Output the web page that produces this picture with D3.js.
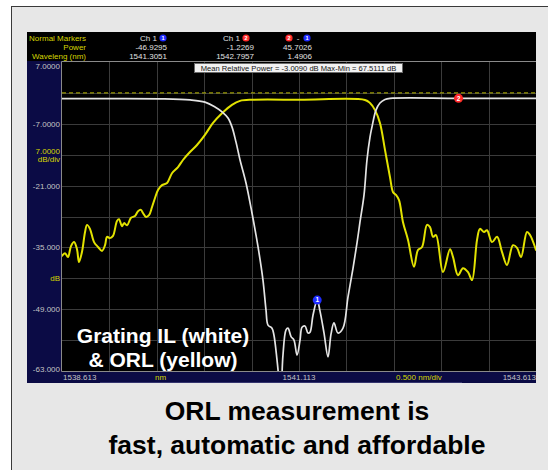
<!DOCTYPE html>
<html>
<head>
<meta charset="utf-8">
<script src="https://cdn.jsdelivr.net/npm/d3@7/dist/d3.min.js"></script>
<style>
  body { margin: 0; background: #ffffff; }
  svg { display: block; }
  text { font-family: "Liberation Sans", Arial, Helvetica, sans-serif; }
</style>
</head>
<body>
<svg id="chart" width="548" height="470"></svg>
<script>
// ---- Axis ticks -------------------------------------------------------
const yTickValues = [7, -7, -21, -35, -49, -63];
const yTickLabels = ["7.0000", "-7.0000", "-21.000", "-35.000", "-49.000", "-63.000"];
const xTickValues = [1538.613, 1541.113, 1543.613];
const xTickLabels = ["1538.613", "1541.113", "1543.613"];
const referenceLevel = 0;

// ---- Grating insertion loss (white trace) -----------------------------
const ilWavelength = [
  1538.613, 1539.119, 1539.647, 1539.963, 1540.121, 1540.227, 1540.301, 1540.364,
  1540.406, 1540.448, 1540.491, 1540.554, 1540.617, 1540.681, 1540.733, 1540.765,
  1540.786, 1540.828, 1540.849, 1540.881, 1540.902, 1540.915, 1540.930, 1540.944,
  1540.976, 1540.997, 1541.029, 1541.060, 1541.092, 1541.124, 1541.145, 1541.176,
  1541.208, 1541.229, 1541.261, 1541.3051, 1541.335, 1541.377, 1541.419, 1541.451,
  1541.482, 1541.524, 1541.577, 1541.630, 1541.683, 1541.725, 1541.756, 1541.799,
  1541.830, 1541.862, 1541.883, 1541.925, 1541.967, 1542.020, 1542.073, 1542.7957,
  1543.613
];
const ilPower = [
  -1.30, -1.30, -1.35, -1.6, -2.1, -3.2, -4.3, -5.7,
  -7.7, -11.1, -15.2, -20.4, -27.2, -34.9, -42.4, -49.2,
  -52.6, -53.3, -54.9, -60.5, -65.0, -68.0, -65.0, -59.4,
  -53.7, -53.3, -55.2, -56.0, -59.4, -56.0, -53.1, -52.8,
  -54.4, -54.2, -50.3, -46.9295, -49.5, -54.4, -59.8, -54.6,
  -52.1, -54.4, -53.3, -46.2, -39.7, -34.0, -29.3, -23.1,
  -15.2, -10.0, -7.7, -3.9, -2.3, -1.5, -1.25, -1.2269,
  -1.22
];

// ---- Optical return loss (yellow trace) -------------------------------
const orlWavelength = [
  1538.613, 1538.645, 1538.676, 1538.708, 1538.740, 1538.771, 1538.792, 1538.824,
  1538.856, 1538.877, 1538.908, 1538.951, 1538.993, 1539.035, 1539.067, 1539.088,
  1539.119, 1539.151, 1539.193, 1539.214, 1539.246, 1539.267, 1539.299, 1539.341,
  1539.383, 1539.415, 1539.446, 1539.467, 1539.499, 1539.531, 1539.562, 1539.594,
  1539.626, 1539.668, 1539.721, 1539.773, 1539.837, 1539.889, 1539.963, 1540.037,
  1540.121, 1540.206, 1540.301, 1540.406, 1540.491, 1540.628, 1541.124, 1541.809,
  1541.862, 1541.915, 1541.967, 1542.020, 1542.073, 1542.105, 1542.136, 1542.168,
  1542.210, 1542.263, 1542.326, 1542.368, 1542.411, 1542.463, 1542.495, 1542.527,
  1542.558, 1542.632, 1542.706, 1542.738, 1542.790, 1542.843, 1542.896, 1542.938,
  1542.991, 1543.022, 1543.065, 1543.096, 1543.149, 1543.202, 1543.254, 1543.307,
  1543.370, 1543.413, 1543.455, 1543.518, 1543.550, 1543.613
];
const orlPower = [
  -36.9, -36.3, -37.2, -34.7, -33.8, -35.4, -38.3, -36.0,
  -31.5, -29.9, -30.8, -33.8, -34.9, -35.8, -34.5, -32.6,
  -32.9, -32.4, -29.0, -28.6, -30.2, -29.5, -30.0, -28.3,
  -27.9, -26.8, -26.5, -27.2, -28.1, -27.7, -25.9, -23.8,
  -22.0, -20.9, -20.4, -18.2, -16.8, -15.2, -13.4, -11.8,
  -9.5, -6.8, -4.6, -2.7, -1.8, -1.55, -1.55, -1.6,
  -2.3, -3.9, -6.8, -12.9, -19.1, -22.5, -23.1, -24.3,
  -29.3, -33.3, -39.4, -35.6, -34.9, -29.9, -30.4, -32.6,
  -32.2, -40.6, -35.4, -37.2, -41.3, -39.7, -40.6, -42.4,
  -33.3, -30.8, -31.5, -31.1, -33.8, -32.6, -36.0, -39.0,
  -34.5, -35.1, -37.2, -31.5, -32.2, -35.6
];

// ---- Markers -----------------------------------------------------------
const markerNames = ["1", "2"];
const markerWavelength = [1541.3051, 1542.7957];
const markerPower = [-46.9295, -1.2269];
const markerColors = ["#1f2bff", "#ff2a2a"];

// ---- Header readout -----------------------------------------------------
const headerRowLabels = ["Normal Markers", "Power", "Waveleng (nm)"];
const readoutPower = ["-46.9295", "-1.2269", "45.7026"];
const readoutWavelength = ["1541.3051", "1542.7957", "1.4906"];
const statsText = "Mean Relative Power = -3.0090 dB  Max-Min = 67.5111 dB";

// ---- Captions -----------------------------------------------------------
const overlayLines = ["Grating IL (white)", "& ORL (yellow)"];
const titleLines = ["ORL measurement is", "fast, automatic and affordable"];

// =======================================================================
const svg = d3.select("#chart");
const plot = { left: 62, right: 536, top: 62, bottom: 371 };
const panel = { left: 27, right: 536, top: 32, bottom: 383 };
const navy = "#0b0b45";
const yellow = "#e2e200";
const grey = "#c4c4c4";

const x = d3.scaleLinear().domain([xTickValues[0], xTickValues[2]]).range([plot.left, plot.right]);
const y = d3.scaleLinear().domain([-63, 7]).range([plot.bottom, plot.top]);

// slide background
svg.append("rect").attr("x", 11.5).attr("y", 6.5).attr("width", 600).attr("height", 500)
  .attr("fill", "#e7e7e7").attr("stroke", "#3a3a3a").attr("stroke-width", 1);

// instrument panel
svg.append("rect").attr("x", panel.left).attr("y", panel.top)
  .attr("width", panel.right - panel.left).attr("height", plot.top - panel.top).attr("fill", "#000");
svg.append("rect").attr("x", panel.left).attr("y", plot.top - 1)
  .attr("width", plot.left - panel.left).attr("height", panel.bottom - plot.top + 1).attr("fill", navy);
svg.append("rect").attr("x", panel.left).attr("y", plot.bottom)
  .attr("width", panel.right - panel.left).attr("height", panel.bottom - plot.bottom).attr("fill", navy);
svg.append("line").attr("x1", 100).attr("x2", 462).attr("y1", 382.5).attr("y2", 382.5)
  .attr("stroke", "#34346e").attr("stroke-width", 1);
svg.append("rect").attr("x", plot.left).attr("y", plot.top)
  .attr("width", plot.right - plot.left).attr("height", plot.bottom - plot.top).attr("fill", "#000");

// grid: 10 x 10 divisions
const gridX = d3.range(1, 10).map(i => xTickValues[0] + i * 0.5);
const gridY = d3.range(1, 10).map(i => 7 - i * 7);
const grid = svg.append("g").attr("stroke", "#3b3b3b").attr("stroke-width", 1);
grid.selectAll(".gx").data(gridX).join("line")
  .attr("x1", d => Math.round(x(d)) + 0.5).attr("x2", d => Math.round(x(d)) + 0.5)
  .attr("y1", plot.top).attr("y2", plot.bottom);
grid.selectAll(".gy").data(gridY).join("line")
  .attr("y1", d => Math.round(y(d)) + 0.5).attr("y2", d => Math.round(y(d)) + 0.5)
  .attr("x1", plot.left).attr("x2", plot.right);

// plot frame
svg.append("path")
  .attr("d", `M${plot.left - 0.5},${plot.bottom + 0.5}V${plot.top - 0.5}H${plot.right}`)
  .attr("fill", "none").attr("stroke", "#8a8a8a").attr("stroke-width", 1);
svg.append("line").attr("x1", plot.left - 0.5).attr("x2", plot.right)
  .attr("y1", plot.bottom + 0.5).attr("y2", plot.bottom + 0.5)
  .attr("stroke", "#8a8a8a").attr("stroke-width", 1);

// reference level
svg.append("line").attr("x1", plot.left).attr("x2", plot.right)
  .attr("y1", y(referenceLevel)).attr("y2", y(referenceLevel))
  .attr("stroke", "#b8b800").attr("stroke-width", 1).attr("stroke-dasharray", "4,3");

// traces
svg.append("clipPath").attr("id", "plotClip").append("rect")
  .attr("x", plot.left).attr("y", plot.top).attr("width", plot.right - plot.left).attr("height", plot.bottom - plot.top);
const line = d3.line().x(d => x(d[0])).y(d => y(d[1])).curve(d3.curveCatmullRom.alpha(0.5));
const traces = svg.append("g").attr("clip-path", "url(#plotClip)").attr("fill", "none")
  .attr("stroke-linejoin", "round").attr("stroke-linecap", "round");
traces.append("path").datum(d3.zip(orlWavelength, orlPower))
  .attr("d", line).attr("stroke", yellow).attr("stroke-width", 2);
traces.append("path").datum(d3.zip(ilWavelength, ilPower))
  .attr("d", line).attr("stroke", "#e4e4e4").attr("stroke-width", 1.7);

// markers on the white trace
const mk = svg.append("g").selectAll("g").data(markerNames).join("g")
  .attr("transform", (d, i) => `translate(${x(markerWavelength[i])},${y(markerPower[i])})`);
mk.append("circle").attr("r", 4.5).attr("fill", (d, i) => markerColors[i]);
mk.append("text").attr("text-anchor", "middle").attr("dy", 2.3).attr("font-size", 6.5)
  .attr("font-weight", "bold").attr("fill", "#fff").text(d => d);

// statistics box
svg.append("rect").attr("x", 194.5).attr("y", 63.5).attr("width", 208).attr("height", 9)
  .attr("fill", "#f2f2f2").attr("stroke", "#6a6a6a").attr("stroke-width", 1);
svg.append("text").attr("x", 298.5).attr("y", 71).attr("text-anchor", "middle")
  .attr("font-size", 7.6).attr("fill", "#111").text(statsText);

// header readout
const headerY = [41, 50, 59];
svg.append("g").selectAll("text").data(headerRowLabels).join("text")
  .attr("x", 86).attr("y", (d, i) => headerY[i]).attr("text-anchor", "end")
  .attr("font-size", 8).attr("fill", "#d6d600").text(d => d);

function badge(cx, cy, idx) {
  const g = svg.append("g").attr("transform", `translate(${cx},${cy})`);
  g.append("circle").attr("r", 3.6).attr("fill", markerColors[idx]);
  g.append("text").attr("text-anchor", "middle").attr("dy", 2).attr("font-size", 5.5)
    .attr("font-weight", "bold").attr("fill", "#fff").text(markerNames[idx]);
}
svg.append("text").attr("x", 157).attr("y", headerY[0]).attr("text-anchor", "end")
  .attr("font-size", 8).attr("fill", "#e0e0e0").text("Ch 1");
badge(163, 38, 0);
svg.append("text").attr("x", 240).attr("y", headerY[0]).attr("text-anchor", "end")
  .attr("font-size", 8).attr("fill", "#e0e0e0").text("Ch 1");
badge(246, 38, 1);
badge(289, 38, 1);
svg.append("text").attr("x", 298).attr("y", headerY[0]).attr("text-anchor", "middle")
  .attr("font-size", 8).attr("fill", "#e0e0e0").text("-");
badge(307, 38, 0);
const colRight = [167, 254, 312];
svg.append("g").selectAll("text").data(readoutPower).join("text")
  .attr("x", (d, i) => colRight[i]).attr("y", headerY[1]).attr("text-anchor", "end")
  .attr("font-size", 8).attr("fill", "#e0e0e0").text(d => d);
svg.append("g").selectAll("text").data(readoutWavelength).join("text")
  .attr("x", (d, i) => colRight[i]).attr("y", headerY[2]).attr("text-anchor", "end")
  .attr("font-size", 8).attr("fill", "#e0e0e0").text(d => d);

// y axis labels
const yNudge = v => (v === 7 ? 7 : v === -63 ? 1 : 3);
svg.append("g").selectAll("text").data(yTickValues).join("text")
  .attr("x", 60).attr("y", d => y(d) + yNudge(d)).attr("text-anchor", "end")
  .attr("font-size", 8).attr("fill", grey).text((d, i) => yTickLabels[i]);
svg.append("text").attr("x", 60).attr("y", y(-14) - 1).attr("text-anchor", "end")
  .attr("font-size", 8).attr("fill", "#d6d600").text("7.0000");
svg.append("text").attr("x", 60).attr("y", y(-14) + 7).attr("text-anchor", "end")
  .attr("font-size", 8).attr("fill", "#d6d600").text("dB/div");
svg.append("text").attr("x", 60).attr("y", y(-42) + 3).attr("text-anchor", "end")
  .attr("font-size", 8).attr("fill", "#d6d600").text("dB");

// x axis labels
const xAnchor = ["start", "middle", "end"];
const xShift = [1, 0, 0];
svg.append("g").selectAll("text").data(xTickValues).join("text")
  .attr("x", (d, i) => x(d) + xShift[i]).attr("y", 380).attr("text-anchor", (d, i) => xAnchor[i])
  .attr("font-size", 8).attr("fill", grey).text((d, i) => xTickLabels[i]);
svg.append("text").attr("x", 155).attr("y", 380).attr("font-size", 8).attr("fill", "#d6d600").text("nm");
svg.append("text").attr("x", 396).attr("y", 380).attr("font-size", 8).attr("fill", "#d6d600").text("0.500 nm/div");

// overlay caption inside the plot
svg.append("g").selectAll("text").data(overlayLines).join("text")
  .attr("x", 163).attr("y", (d, i) => 343 + i * 24).attr("text-anchor", "middle")
  .attr("font-size", 21).attr("font-weight", "bold").attr("fill", "#fff").text(d => d);

// slide title
svg.append("g").selectAll("text").data(titleLines).join("text")
  .attr("x", 297).attr("y", (d, i) => 420 + i * 34).attr("text-anchor", "middle")
  .attr("font-size", 26.5).attr("font-weight", "bold").attr("fill", "#000").text(d => d);
</script>
</body>
</html>
